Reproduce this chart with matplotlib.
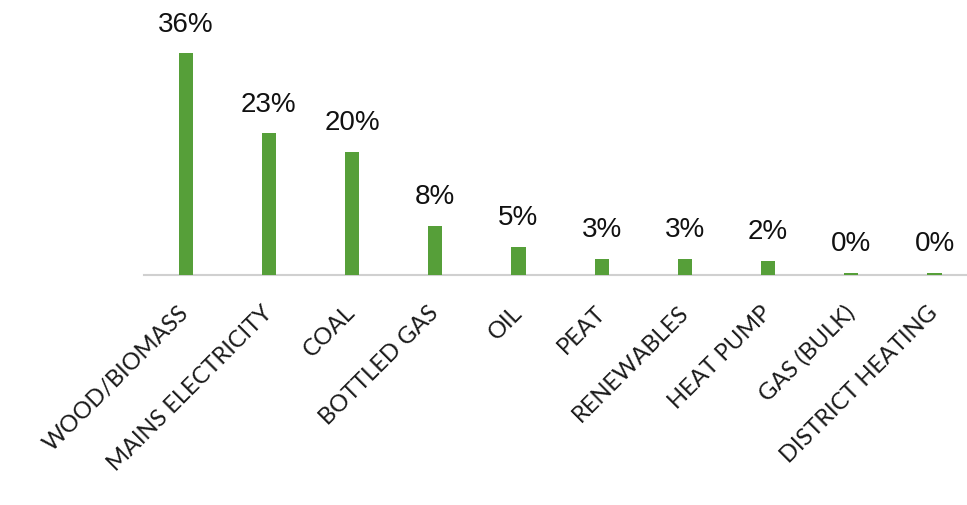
import matplotlib
matplotlib.use("Agg")
import matplotlib.pyplot as plt

# share of households by main heating fuel
fuels = ["WOOD/BIOMASS", "MAINS ELECTRICITY", "COAL", "BOTTLED GAS", "OIL",
         "PEAT", "RENEWABLES", "HEAT PUMP", "GAS (BULK)", "DISTRICT HEATING"]
share = [36, 23, 20, 8, 4.6, 2.6, 2.6, 2.3, 0.4, 0.4]

green = "#569f39"

fig = plt.figure(figsize=(9.67, 5.06), dpi=100)
ax = fig.add_axes([144 / 967, 230 / 506, 823 / 967, 248 / 506])

x = range(len(fuels))
bars = ax.bar(x, share, width=0.17, color=green, zorder=3)

for xi, v in zip(x, share):
    ax.annotate(f"{v:.0f}%", (xi, v), xytext=(0, 12), textcoords="offset points",
                ha="center", va="bottom", fontsize=20, family="Liberation Sans",
                color="#111111")

ax.set_xlim(-0.5, 9.39)
ax.set_ylim(0, 40.3)

for side in ["left", "right", "top"]:
    ax.spines[side].set_visible(False)
ax.spines["bottom"].set_color("#d0d0d0")
ax.spines["bottom"].set_linewidth(1.5)
ax.set_yticks([])

ax.set_xticks(list(x))
ax.set_xticklabels(fuels, rotation=45, ha="right", va="center",
                   rotation_mode="anchor", fontsize=17, family="Lato",
                   color="#1a1a1a")
ax.tick_params(axis="x", length=0, pad=24)

fig.savefig("out.png", dpi=100, facecolor="white")
